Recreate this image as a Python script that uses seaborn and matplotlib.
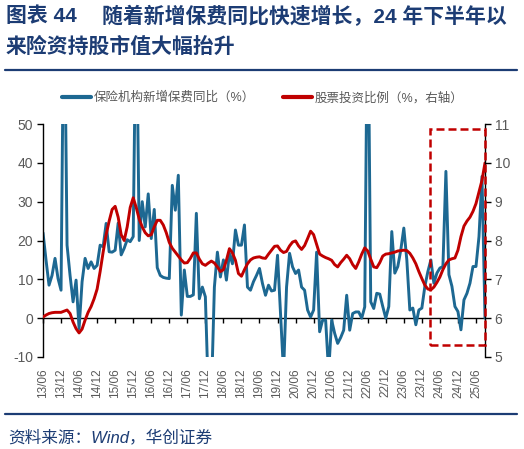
import numpy as np
import pandas as pd
import matplotlib
matplotlib.use("Agg")
import matplotlib.pyplot as plt
import seaborn as sns
from matplotlib.patches import Rectangle
from matplotlib.lines import Line2D

# ---------------- data ----------------
months = pd.period_range("2013-06", "2025-09", freq="M")
month_idx = np.arange(len(months))

premium_yoy = [
    22, 15, 8.5, 11, 15.4, 10.2, 7.2, 90, 18.8, 11,
    4.2, 9.8, -2.7, 9.4, 15.4, 12.8, 14.5, 12.8, 13.6, 18.8,
    18.4, 24.4, 17.1, 17, 17.5, 24.5, 16.3, 18, 20.2, 19.7,
    21, 85, 20, 30, 23.5, 32, 20.5, 28, 13, 11,
    10.5, 10.3, 10.2, 34.2, 27.8, 36.8, 0.8, 12.4, 5.6, 5.6,
    6, 27, 5, 8, 5.5, -20, -20, 8, 17, 10.6,
    15, 9.8, 16.7, 14, 22.7, 18.8, 18.8, 24, 8, 7.2,
    9.4, 11, 12.8, 8.9, 5.9, 8.5, 7.0, 7.2, 16.2, 1.2,
    -14, 8, 16.7, 13.2, 11.5, 12.4, 8, 7.2, 2.1, 0.3,
    2.1, 17, -3.5, -0.5, -0.5, -14, -0.5, -3.9, -6.5, -5,
    -3.1, 5.9, -3.1, 1.2, 1.6, 1.6, 0, 2.9, 90, 4.2,
    2.5, 6.4, 6.2, 3, 0, 3, 22.3, 11.6, 13.3, 17.6,
    23.2, 15, 2.1, 2.6, -1.7, 2.1, 2.6, 8.2, 12, 15,
    9, 11.6, 12.9, 13.3, 37.8, 11.2, 8.2, 3, 1.7, -3,
    4.7, 6.4, 9, 13.3, 13.3, 21, 36.5, 0,
]

equity_ratio = [
    6.03, 6.08, 6.12, 6.14, 6.15, 6.15, 6.15, 6.18, 6.21, 6.12,
    5.90, 5.73, 5.62, 5.72, 5.95, 6.15, 6.30, 6.50, 6.75, 7.20,
    7.70, 8.15, 8.50, 8.80, 8.88, 8.60, 8.15, 8.00, 8.35, 8.85,
    9.10, 8.85, 8.55, 8.35, 8.20, 8.12, 8.15, 8.35, 8.52, 8.52,
    8.40, 8.20, 7.95, 7.80, 7.70, 7.60, 7.50, 7.42, 7.43, 7.54,
    7.68, 7.68, 7.52, 7.40, 7.36, 7.42, 7.47, 7.42, 7.32, 7.20,
    7.25, 7.49, 7.79, 7.68, 7.49, 7.15, 7.08, 7.25, 7.40, 7.50,
    7.55, 7.57, 7.58, 7.55, 7.54, 7.65, 7.75, 7.85, 7.86, 7.75,
    7.69, 7.72, 7.86, 7.96, 7.99, 7.86, 7.77, 7.87, 8.05, 8.24,
    8.15, 7.90, 7.65, 7.60, 7.56, 7.53, 7.49, 7.38, 7.32, 7.43,
    7.52, 7.62, 7.53, 7.38, 7.28, 7.45, 7.65, 7.81, 7.73, 7.52,
    7.32, 7.30, 7.43, 7.60, 7.65, 7.66, 7.68, 7.70, 7.73, 7.74,
    7.75, 7.74, 7.67, 7.55, 7.40, 7.20, 7.02, 6.85, 6.75, 6.73,
    6.80, 6.92, 7.06, 7.25, 7.40, 7.50, 7.53, 7.55, 7.75, 8.10,
    8.37, 8.50, 8.60, 8.75, 8.95, 9.25, 9.55, 10.00,
]

tick_idx = month_idx[::6]
tick_labels = [p.strftime("%y/%m") for p in months[::6]]

label_blue = "保险机构新增保费同比（%）"
label_red = "股票投资比例（%，右轴）"
title_a = "图表 44"
title_b = "随着新增保费同比快速增长，24 年下半年以"
title_c = "来险资持股市值大幅抬升"
source = "资料来源：Wind，华创证券"

df = pd.DataFrame({"m": month_idx, "blue": premium_yoy, "red": equity_ratio})

# ---------------- style ----------------
sns.set_style("white")
plt.rcParams["font.family"] = ["Liberation Sans", "Noto Sans CJK SC", "DejaVu Sans"]
plt.rcParams["axes.unicode_minus"] = False

BLUE = "#1d6892"
RED = "#C00000"
NAVY = "#1c3c74"
GRAY = "#595959"

W, H = 524, 449
fig = plt.figure(figsize=(W / 100, H / 100), dpi=100)
ax = fig.add_axes([43 / W, 92 / H, 442 / W, 233 / H])
ax2 = ax.twinx()

sns.lineplot(data=df, x="m", y="blue", ax=ax, color=BLUE, linewidth=2.1)
sns.lineplot(data=df, x="m", y="red", ax=ax2, color=RED, linewidth=2.1)

ax.set_xlim(0, 147)
ax.set_ylim(-10, 50)
ax2.set_ylim(5, 11)
ax.set_yticks(range(-10, 51, 10))
ax2.set_yticks(range(5, 12))
ax.set_xlabel("")
ax.set_ylabel("")
ax2.set_ylabel("")

for a in (ax, ax2):
    for s in a.spines.values():
        s.set_visible(False)
ax.spines["left"].set_visible(True)
ax.spines["left"].set_color("black")
ax.spines["left"].set_linewidth(1.0)
ax2.spines["right"].set_visible(True)
ax2.spines["right"].set_color("black")
ax2.spines["right"].set_linewidth(1.0)

ax.tick_params(axis="y", direction="out", length=4, width=1, color="black",
               labelsize=10, labelcolor=GRAY, pad=3)
ax2.tick_params(axis="y", direction="out", length=4, width=1, color="black",
                labelsize=10, labelcolor=GRAY, pad=3)

ax.set_xticks(tick_idx)
ax.set_xticklabels(tick_labels, rotation=90, fontsize=8.5, color=GRAY)
ax.tick_params(axis="x", length=0, pad=8)

# zero line axis with tick marks
sec = ax.secondary_xaxis(1 / 6)
sec.set_xticks(tick_idx)
sec.set_xticklabels([])
sec.tick_params(axis="x", direction="out", length=3.5, width=1, color="black")
sec.spines["bottom"].set_color("black")
sec.spines["bottom"].set_linewidth(1.0)

# highlight box
box = Rectangle((128.8, -6.8), 18.1, 55.4, transform=ax.transData, fill=False,
                edgecolor=RED, linewidth=1.8, linestyle=(0, (3.2, 1.6)),
                zorder=10, clip_on=False)
ax2.add_patch(box)

# legend
h1 = Line2D([], [], color=BLUE, linewidth=3)
h2 = Line2D([], [], color=RED, linewidth=3)
fig.legend([h1, h2], [label_blue, label_red], loc="center",
           bbox_to_anchor=(263 / W, 1 - 98 / H), ncol=2, frameon=False,
           fontsize=9, labelcolor=GRAY, handlelength=2.3, handletextpad=0.25,
           columnspacing=2.2)

# titles
fig.text(6 / W, 1 - 16 / H, title_a, fontsize=15, fontweight="bold", color=NAVY,
         ha="left", va="center")
fig.text(102 / W, 1 - 16 / H, title_b, fontsize=15, fontweight="bold", color=NAVY,
         ha="left", va="center")
fig.text(6 / W, 1 - 47 / H, title_c, fontsize=15, fontweight="bold", color=NAVY,
         ha="left", va="center")
fig.add_artist(Line2D([5 / W, 517 / W], [1 - 70 / H] * 2, color=NAVY, linewidth=1.6))
fig.add_artist(Line2D([5 / W, 517 / W], [1 - 414 / H] * 2, color=NAVY, linewidth=1.6))
fig.text(8 / W, 1 - 437 / H, source, fontsize=12, color=NAVY, style="italic",
         ha="left", va="center")

fig.savefig("out.png", dpi=100)
